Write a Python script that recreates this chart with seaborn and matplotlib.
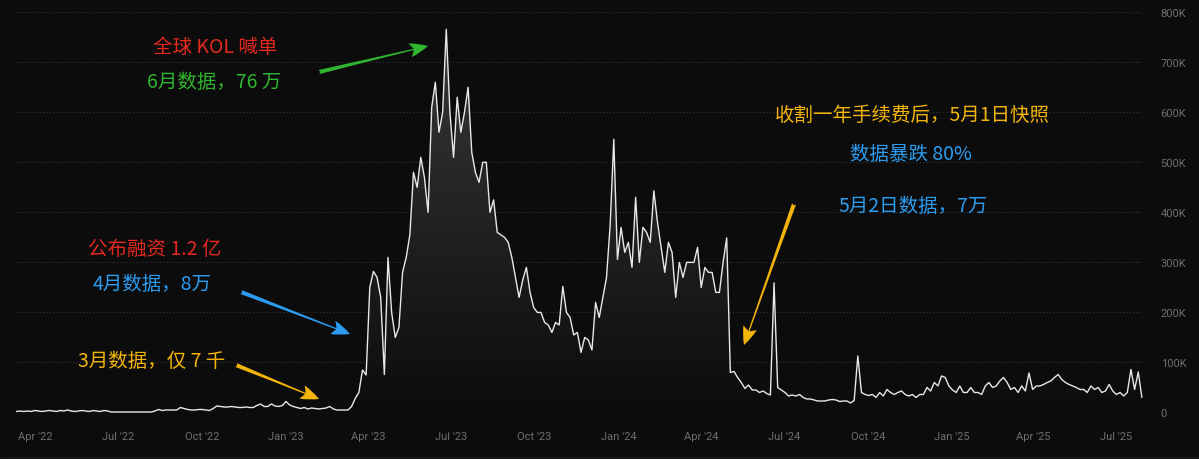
import numpy as np
import pandas as pd
import matplotlib
matplotlib.use("Agg")
import matplotlib.pyplot as plt
import matplotlib.dates as mdates
from matplotlib.colors import LinearSegmentedColormap
from matplotlib.ticker import FuncFormatter
from matplotlib.lines import Line2D
import seaborn as sns

# one reading every 4 days, in thousands
start_date = "2022-03-11"
step = "4D"
users_k = [
    2, 3, 2, 3, 2, 4, 3, 2, 3, 4,
    3, 2, 4, 3, 5, 3, 2, 3, 4, 3,
    2, 4, 3, 2, 4, 3, 1, 1, 1, 1,
    1, 1, 1, 1, 1, 1, 1, 1, 3, 6,
    4, 5, 5, 5, 5, 10, 8, 6, 5, 5,
    6, 6, 5, 4, 8, 13, 12, 11, 11, 12,
    11, 10, 10, 11, 10, 10, 14, 17, 12, 12,
    17, 13, 12, 14, 22, 15, 12, 10, 8, 10,
    7, 9, 8, 7, 8, 9, 12, 7, 5, 5,
    5, 5, 12, 28, 40, 85, 75, 250, 282, 270,
    230, 76, 310, 200, 150, 170, 280, 310, 355, 480,
    450, 510, 470, 400, 610, 660, 560, 600, 766, 600,
    510, 630, 560, 600, 650, 520, 480, 460, 500, 500,
    400, 425, 360, 355, 350, 340, 310, 270, 230, 265,
    290, 240, 210, 200, 200, 180, 175, 160, 180, 175,
    252, 200, 190, 155, 160, 120, 150, 145, 125, 220,
    190, 230, 270, 375, 546, 306, 370, 320, 340, 290,
    430, 300, 370, 360, 340, 443, 380, 330, 280, 340,
    320, 230, 300, 270, 300, 300, 300, 330, 250, 290,
    280, 280, 240, 240, 300, 349, 80, 82, 70, 60,
    48, 55, 45, 45, 40, 43, 38, 35, 259, 50,
    45, 40, 33, 35, 33, 36, 30, 27, 27, 25,
    23, 23, 23, 25, 26, 25, 22, 23, 23, 19,
    24, 113, 40, 36, 34, 36, 30, 40, 33, 46,
    40, 36, 40, 43, 36, 33, 36, 30, 36, 36,
    50, 43, 60, 53, 73, 70, 53, 45, 40, 53,
    40, 40, 50, 40, 40, 36, 53, 60, 50, 53,
    63, 70, 60, 46, 50, 40, 53, 43, 79, 46,
    53, 53, 56, 60, 63, 70, 76, 66, 60, 56,
    53, 50, 46, 46, 40, 53, 46, 50, 40, 43,
    56, 43, 36, 40, 33, 40, 86, 46, 81, 30,
]

y_ticks = [0, 100000, 200000, 300000, 400000, 500000, 600000, 700000, 800000]

notes = [
    "全球 KOL 喊单",
    "6月数据，76 万",
    "公布融资 1.2 亿",
    "4月数据，8万",
    "3月数据，仅 7 千",
    "收割一年手续费后，5月1日快照",
    "数据暴跌 80%",
    "5月2日数据，7万",
]

RED, GREEN, BLUE, ORANGE = "#e5291f", "#2fb52f", "#2c9cf0", "#f3b40c"
BG = "#0c0c0c"
W, H = 1199, 460

df = pd.DataFrame({
    "date": pd.date_range(start_date, periods=len(users_k), freq=step),
    "users": np.array(users_k) * 1000,
})

sns.set_theme(style="dark", rc={"axes.facecolor": BG, "figure.facecolor": BG})
plt.rcParams["font.family"] = ["Roboto", "Noto Sans CJK SC", "DejaVu Sans"]

fig = plt.figure(figsize=(W / 100, H / 100), dpi=100)
# pixel box of the plot area (top-left origin)
left, right, top, bottom = 15.6, 1142.8, 13.2, 413.5
ax = fig.add_axes([left / W, 1 - bottom / H, (right - left) / W, (bottom - top) / H])

x0, x1 = pd.Timestamp("2022-03-10"), pd.Timestamp("2025-07-30")

# gradient fill under the line
poly = ax.fill_between(df["date"], df["users"], 0, color="none", lw=0)
clip = poly.get_paths()[0]
cmap = LinearSegmentedColormap.from_list("g", [BG, "#3a3a3a"])
grad = np.linspace(0, 1, 256).reshape(-1, 1)
im = ax.imshow(grad, extent=[mdates.date2num(x0), mdates.date2num(x1), 0, 800000],
               origin="lower", aspect="auto", cmap=cmap, zorder=1)
im.set_clip_path(clip, transform=ax.transData)

sns.lineplot(data=df, x="date", y="users", ax=ax, color="#e8e8e8",
             linewidth=1.0, estimator=None, zorder=3)

ax.set_xlim(x0, x1)
ax.set_ylim(0, 800000)
ax.set_xlabel("")
ax.set_ylabel("")
for s in ax.spines.values():
    s.set_visible(False)

ax.set_yticks(y_ticks)
ax.yaxis.set_major_formatter(FuncFormatter(lambda v, p: "0" if v == 0 else f"{v / 1000:.0f}K"))
ax.yaxis.tick_right()
ax.xaxis.set_major_locator(mdates.MonthLocator(bymonth=[1, 4, 7, 10]))
ax.xaxis.set_major_formatter(mdates.DateFormatter("%b '%y"))
ax.tick_params(axis="y", length=0, pad=12.9, labelsize=8, labelcolor="#6e6e6e")
ax.tick_params(axis="x", length=0, pad=13.5, labelsize=8, labelcolor="#6e6e6e")
ax.grid(axis="y", color="#353535", linestyle=(0, (1, 2)), linewidth=0.8)
ax.grid(axis="x", visible=False)


def fxy(x, y):
    return x / W, 1 - y / H


cjk = ["Noto Sans CJK SC", "DejaVu Sans"]
note_pos = [(215.5, 47), (214.5, 83), (155, 249), (152, 284), (152, 361),
            (912, 115), (910.5, 155), (913, 206)]
note_col = [RED, GREEN, RED, BLUE, ORANGE, ORANGE, BLUE, BLUE]
for txt, (px, py), c in zip(notes, note_pos, note_col):
    fig.text(*fxy(px, py), txt, color=c, fontsize=14, family=cjk, ha="center", va="center")

arrows = [((319, 73), (428, 47), GREEN),
          ((241, 293), (350, 335), BLUE),
          ((236, 366), (319, 400), ORANGE),
          ((794, 205), (744, 346), ORANGE)]
for tail, head, c in arrows:
    ax.annotate("", xy=fxy(*head), xycoords="figure fraction",
                xytext=fxy(*tail), textcoords="figure fraction",
                annotation_clip=False,
                arrowprops=dict(arrowstyle="fancy,head_length=1.1,head_width=0.85,tail_width=0.25",
                                connectionstyle="arc3,rad=0", color=c, lw=0,
                                shrinkA=0, shrinkB=0, mutation_scale=12))

fig.add_artist(Line2D([0, 1], [1 - 457.5 / H] * 2, transform=fig.transFigure,
                      color="#1a1a1a", lw=1))

fig.savefig("out.png", dpi=100, facecolor=BG)
